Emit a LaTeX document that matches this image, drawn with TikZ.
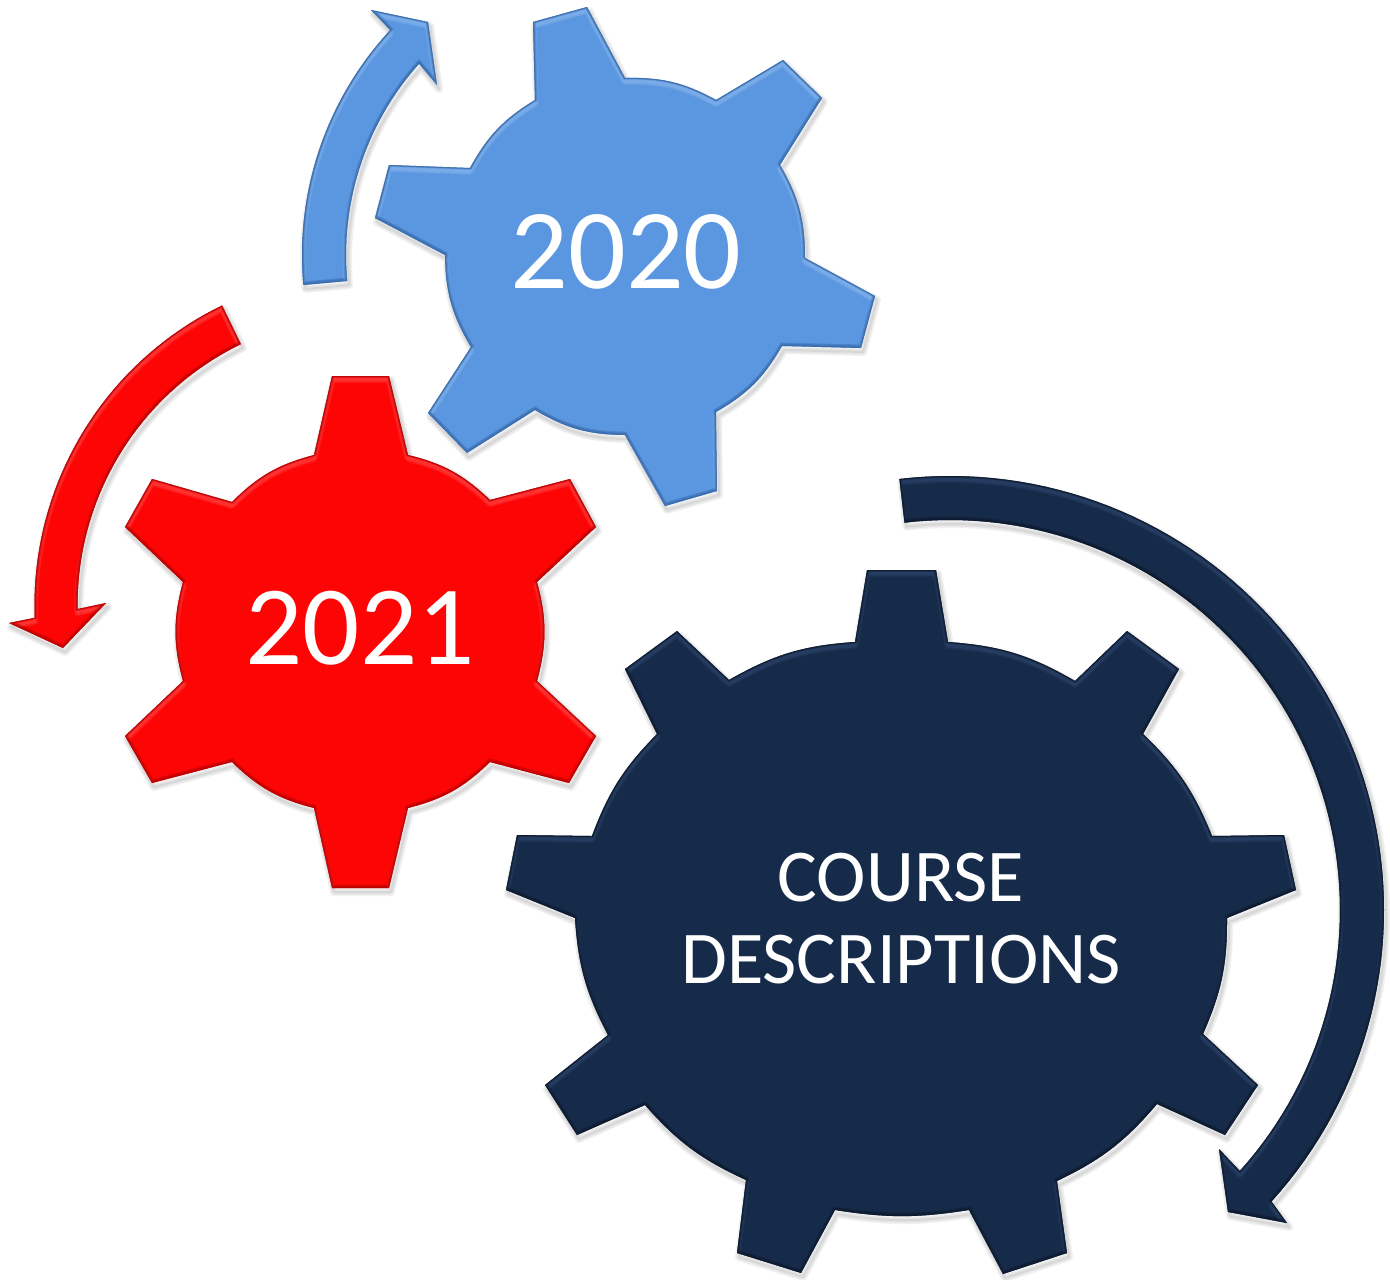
\documentclass[tikz,border=0pt]{standalone}
\usepackage{fontspec}
\setmainfont{Carlito}
\definecolor{bluebase}{HTML}{5B97E1}
\definecolor{bluelight}{HTML}{A5CBF5}
\definecolor{bluedark}{HTML}{2F5F9E}
\definecolor{redbase}{HTML}{FE0505}
\definecolor{redlight}{HTML}{FF7070}
\definecolor{reddark}{HTML}{A80000}
\definecolor{navybase}{HTML}{162A49}
\definecolor{navylight}{HTML}{3F5B84}
\definecolor{navydark}{HTML}{0B1628}
\newcommand{\bevelshape}[4]{%
  \begin{scope}[shift={(2,4)}]
    \foreach \w in {8,5,2}{\draw[black,opacity=.055,line width=\w pt,line join=round] #1;}
  \end{scope}
  \fill[#2] #1;
  \begin{scope}
    \clip #1;
    \begin{scope}[shift={(0,3.5)}]
      \foreach \w in {7,5,3}{\draw[#3,opacity=.16,line width=\w pt,line join=round] #1;}
    \end{scope}
    \begin{scope}[shift={(0,-1)}]
      \foreach \w in {5,3}{\draw[#4,opacity=.35,line width=\w pt] #1;}
    \end{scope}
    \draw[#4,opacity=.45,line width=2pt] #1;
  \end{scope}}
\def\bluegear{(533,22) -- (587,7) -- (625,78) to[bend left=15] (716,100) -- (783,60) -- (822,98) -- (780,165) to[bend left=15] (805,258) -- (875,296) -- (861,348) -- (782,346) to[bend left=15] (716,412) -- (717,491) -- (665,506) -- (625,435) to[bend left=15] (535,410) -- (467,453) -- (428,413) -- (471,347) to[bend left=15] (445,255) -- (375,218) -- (389,165) -- (470,168) to[bend left=15] (535,100) -- cycle}
\def\redgear{(332,376) -- (389,376) -- (408,455) to[bend left=15] (490,500) -- (570,479) -- (596,527) -- (537,582) to[bend left=15] (537,681) -- (596,736) -- (569,783) -- (490,762) to[bend left=15] (408,808) -- (389,888) -- (332,888) -- (314,808) to[bend left=15] (232,762) -- (152,783) -- (125,736) -- (183,681) to[bend left=15] (183,582) -- (125,527) -- (152,479) -- (232,502) to[bend left=15] (314,455) -- cycle}
\def\navygear{(867,570) -- (936,570) -- (948,642) to[bend left=13] (1075,681) -- (1127,631) -- (1179,669) -- (1143,734) to[bend left=12] (1212,836) -- (1284,835) -- (1296,890) -- (1227,918) to[bend left=12] (1203,1034) -- (1258,1085) -- (1225,1135) -- (1157,1104) to[bend left=12] (1057,1181) -- (1067,1253) -- (1003,1274) -- (969,1210) to[bend left=9] (835,1210) -- (801,1273) -- (737,1253) -- (746,1180) to[bend left=12] (645,1105) -- (577,1135) -- (545,1085) -- (608,1035) to[bend left=12] (575,918) -- (506,890) -- (517,835) -- (592,836) to[bend left=12] (657,734) -- (625,669) -- (677,631) -- (729,680) to[bend left=13] (855,642) -- cycle}
\def\bluearrow{plot[domain=174.8:222.8,samples=40] ({633+331*cos(\x)},{255+331*sin(\x)}) -- (371,10) -- (428,22) -- (437,85) -- plot[domain=221.8:174.8,samples=40] ({633+287*cos(\x)},{255+287*sin(\x)}) -- cycle}
\def\redarrow{plot[domain=244.1:177.8,samples=40] ({367.5+333*cos(\x)},{605+333*sin(\x)}) -- (9,623) -- (63,648) -- (106,603) -- plot[domain=179.2:244.1,samples=40] ({367.5+290*cos(\x)},{605+290*sin(\x)}) -- cycle}
\def\navyarrow{plot[domain=-96.7:42.2,samples=80] ({950+434*cos(\x)},{910+434*sin(\x)}) -- (1287,1223) -- (1228,1212) -- (1219,1149) -- plot[domain=42:-96.7,samples=80] ({950+390*cos(\x)},{910+390*sin(\x)}) -- cycle}
\tikzset{gearlabel/.style={text=white,align=center,inner sep=0pt}}
\begin{document}
\begin{tikzpicture}[x=1pt,y=-1pt]
\useasboundingbox (0,0) rectangle (1390,1280);
\bevelshape{\bluearrow}{bluebase}{bluelight}{bluedark}
\bevelshape{\redarrow}{redbase}{redlight}{reddark}
\bevelshape{\navyarrow}{navybase}{navylight}{navydark}
\bevelshape{\bluegear}{bluebase}{bluelight}{bluedark}
\bevelshape{\redgear}{redbase}{redlight}{reddark}
\bevelshape{\navygear}{navybase}{navylight}{navydark}
\node[gearlabel,font=\fontsize{114}{114}\selectfont] (y2020) at (626,252) {2020};
\node[gearlabel,font=\fontsize{113}{113}\selectfont] (y2021) at (360,628) {2021};
\node[gearlabel,font=\fontsize{74.5}{82}\selectfont] (course) at (901,918.5) {COURSE\\DESCRIPTIONS};
\end{tikzpicture}
\end{document}
